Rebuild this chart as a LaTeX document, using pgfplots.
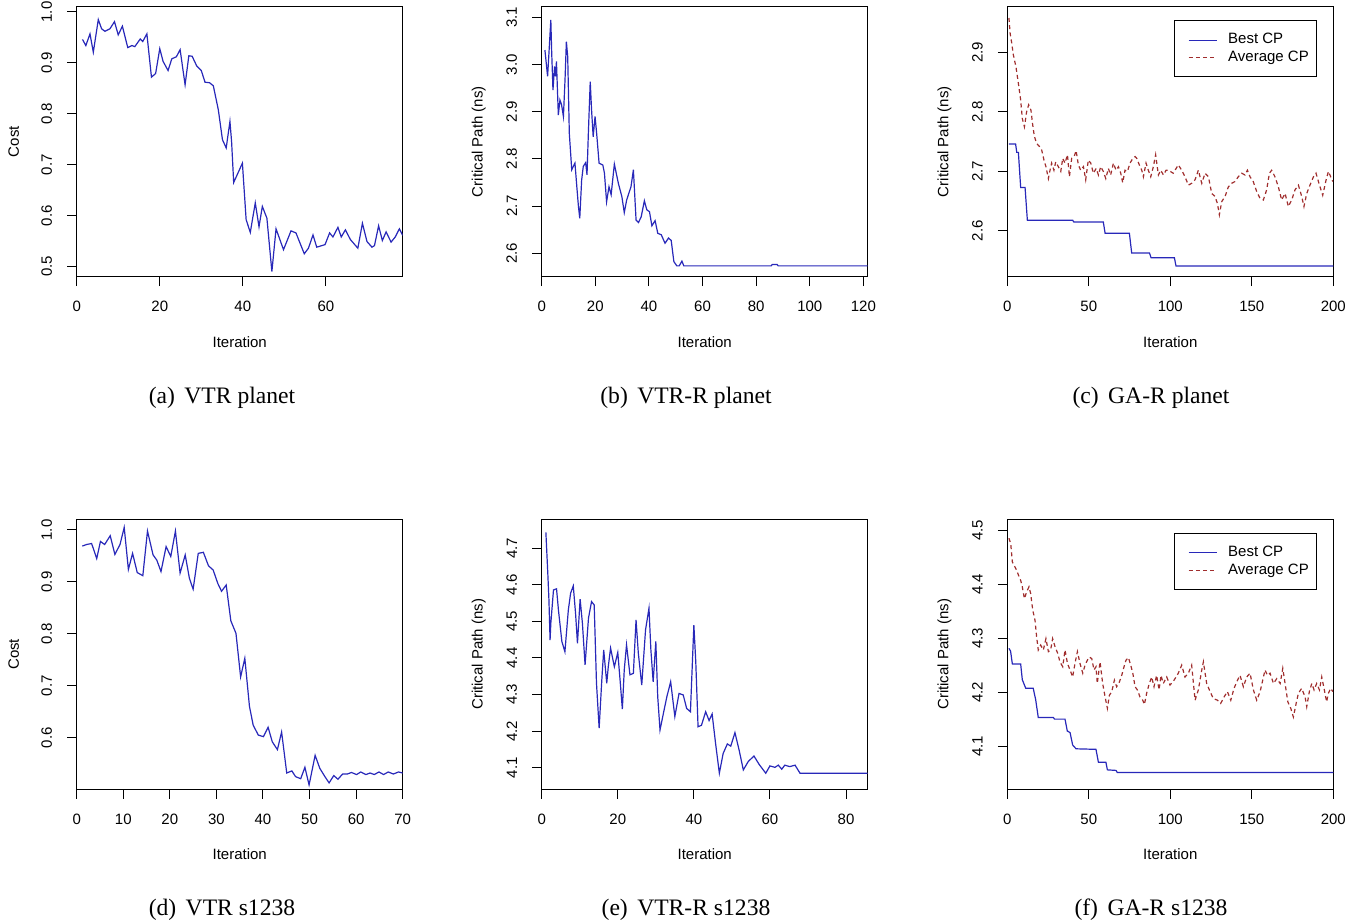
\documentclass[border=0pt]{standalone}
\usepackage{fontspec}
\setmainfont{Liberation Sans}
\newfontfamily\capfont{Liberation Serif}
\usepackage{pgfplots}
\pgfplotsset{compat=1.18}

\definecolor{rblue}{RGB}{40,40,185}
\definecolor{rbrown}{RGB}{160,45,45}
\newcommand{\axfont}{\fontsize{7.5}{9}\selectfont}
\newcommand{\capsize}{\capfont\fontsize{11.8}{14}\selectfont}

\pgfplotsset{
  rpanel/.style={
    scale only axis, width=163pt, height=135pt, anchor=south west,
    axis line style={line width=0.5pt, black},
    tick align=outside, major tick length=4.75pt,
    tick style={black, line width=0.5pt}, tick pos=left,
    /pgf/number format/assume math mode=true,
    every tick label/.append style={font=\axfont},
    label style={font=\axfont},
    xticklabel shift=4pt, yticklabel shift=4pt,
    yticklabel style={rotate=90, anchor=south,
      /pgf/number format/fixed, /pgf/number format/fixed zerofill,
      /pgf/number format/precision=1},
    xlabel style={at={(axis description cs:0.5,-0.241)}, anchor=center},
    ylabel style={at={(axis description cs:-0.193,0.5)}, anchor=center},
    xmin=0, xlabel={Iteration},
    every axis plot/.append style={line width=0.6pt},
  },
  rlegend/.style={
    legend style={at={(0.951,0.949)}, anchor=north east, draw=black,
      line width=0.5pt, fill=white, font=\axfont,
      inner xsep=2pt, inner ysep=4.25pt, row sep=-2pt},
    legend cell align=left,
    legend image code/.code={\path (0pt,0pt) (22.5pt,0pt);
      \draw[##1] (5pt,0pt) -- (19pt,0pt);},
  },
}

\begin{document}
\begin{tikzpicture}
\path[use as bounding box] (0pt,0pt) rectangle (680pt,-462pt);

% (a) VTR planet
\begin{axis}[rpanel, at={(38.35pt,-138.35pt)},
  xmax=78.5, ymin=0.480, ymax=1.0104,
  xtick={0,20,40,60}, ytick={0.5,0.6,0.7,0.8,0.9,1.0}, ylabel={Cost}]
\addplot[rblue] coordinates {
(1.4,0.946) (2.2,0.934) (3.2,0.957) (4,0.921) (5.2,0.985) (6,0.967) (6.8,0.962)
(8,0.967) (9.1,0.981) (10,0.955) (11,0.972) (12.3,0.930) (13.3,0.934) (14,0.932)
(15.3,0.947) (15.9,0.942) (16.9,0.957) (18,0.872) (19,0.879) (20,0.928) (20.8,0.903)
(22,0.885) (22.9,0.908) (24,0.912) (24.9,0.926) (26.1,0.857) (27,0.914) (27.8,0.913)
(28.9,0.894) (30,0.885) (30.9,0.862) (32,0.861) (32.9,0.855) (34.1,0.808) (35.1,0.749)
(36,0.733) (36.9,0.785) (37.3,0.745) (37.8,0.665) (39.9,0.703) (40.8,0.592) (41.8,0.567)
(43,0.625) (43.9,0.578) (44.7,0.618) (45.8,0.595) (47,0.490) (48,0.574) (49.8,0.533)
(51.6,0.570) (52.8,0.566) (54.8,0.525) (55.8,0.536) (56.9,0.562) (57.8,0.538)
(59.8,0.543) (60.9,0.566) (61.7,0.558) (62.9,0.577) (63.7,0.558) (64.7,0.572)
(65.9,0.553) (67.7,0.536) (68.8,0.585) (69.9,0.549) (71.1,0.538) (71.7,0.541)
(72.7,0.580) (73.6,0.551) (74.5,0.568) (75.7,0.548) (76.7,0.558) (77.7,0.574) (78.5,0.561)
};
\end{axis}

% (b) VTR-R planet
\begin{axis}[rpanel, at={(270.85pt,-138.35pt)},
  xmax=121.6, ymin=2.550, ymax=3.123,
  xtick={0,20,40,60,80,100,120}, ytick={2.6,2.7,2.8,2.9,3.0,3.1},
  ylabel={Critical Path (ns)}]
\addplot[rblue] coordinates {
(1.2,3.031) (2.2,2.975) (2.7,3.024) (3.4,3.095) (3.7,3.031) (4.2,2.946) (4.8,2.996)
(5.2,2.975) (5.5,3.007) (6.2,2.893) (6.8,2.925) (7.4,2.915) (8.1,2.890) (8.7,2.968)
(9.2,3.049) (9.7,3.017) (10.3,2.854) (11.2,2.777) (11.8,2.784) (12.4,2.791) (13.1,2.741)
(13.7,2.699) (14.2,2.674) (14.9,2.755) (15.5,2.784) (16.4,2.792) (16.9,2.766)
(17.4,2.854) (18.1,2.964) (18.6,2.904) (19.2,2.847) (19.9,2.890) (20.5,2.854)
(21.4,2.791) (22.8,2.787) (23.4,2.770) (24.2,2.709) (25.1,2.741) (25.9,2.724)
(27.1,2.789) (28.6,2.748) (29.9,2.720) (30.8,2.686) (31.7,2.713) (33.3,2.741)
(34.2,2.777) (35.2,2.670) (36.1,2.665) (37.1,2.677) (38.3,2.711) (39.2,2.692)
(40.2,2.688) (41.1,2.658) (42.3,2.669) (43.3,2.642) (44.6,2.639) (46,2.621)
(47.3,2.632) (48.3,2.627) (49.3,2.582) (50.4,2.573) (51.3,2.573) (52.3,2.583)
(53,2.573) (85.6,2.573) (86,2.576) (87.8,2.576) (88.2,2.573) (121.6,2.573)
};
\end{axis}

% (c) GA-R planet
\begin{axis}[rpanel, rlegend, at={(503.65pt,-138.35pt)},
  xmax=200, ymin=2.523, ymax=2.977,
  xtick={0,50,100,150,200}, ytick={2.6,2.7,2.8,2.9},
  ylabel={Critical Path (ns)}]
\addplot[rblue] coordinates {
(1,2.746) (5.1,2.746) (5.8,2.732) (6.8,2.732) (8.2,2.673) (10.9,2.673) (12.3,2.618)
(40.1,2.618) (40.8,2.615) (58.9,2.615) (60,2.596) (74.9,2.596) (76.3,2.563)
(87.2,2.563) (88.2,2.555) (102.5,2.555) (103.5,2.541) (200,2.541)
};
\addlegendentry{Best CP}
\addplot[rbrown, dash pattern=on 2pt off 1.6pt] coordinates {
(1,2.958) (1.7,2.933) (2.7,2.916) (3.7,2.896) (5.3,2.876) (6.8,2.848) (8.2,2.820)
(9.2,2.789) (10.5,2.775) (11.9,2.801) (13.1,2.812) (14.5,2.803) (15.6,2.778)
(16.6,2.759) (18,2.747) (19.7,2.742) (21.1,2.736) (22.5,2.719) (23.7,2.708)
(25.2,2.688) (26.2,2.702) (27.2,2.714) (28.6,2.702) (29.7,2.716) (31.3,2.708)
(32.8,2.700) (34,2.722) (35.4,2.714) (36.9,2.728) (38.1,2.691) (39.5,2.722)
(41,2.725) (42.2,2.735) (43.6,2.711) (45,2.702) (46.7,2.708) (48.1,2.686)
(49.7,2.719) (51.2,2.714) (52.8,2.697) (54.5,2.705) (55.9,2.694) (57.3,2.708)
(58.9,2.700) (60.4,2.688) (62,2.705) (63.4,2.694) (65.1,2.714) (66.7,2.702)
(68.2,2.708) (69.6,2.697) (70.8,2.681) (72.2,2.702) (73.7,2.700) (75.3,2.714)
(77,2.722) (78.4,2.725) (79.4,2.722) (81,2.711) (82.5,2.702) (83.5,2.691)
(85.1,2.714) (86.5,2.702) (88,2.691) (89.6,2.708) (91,2.728) (92.7,2.694)
(94.1,2.702) (95.8,2.694) (97.4,2.702) (98.8,2.702) (101.8,2.697) (104.9,2.711)
(107,2.702) (109,2.691) (111.1,2.677) (113.1,2.680) (115.2,2.686) (117.2,2.702)
(119.3,2.680) (121.3,2.697) (123.4,2.691) (125.4,2.663) (127.4,2.658) (128.9,2.646)
(130.1,2.627) (131.5,2.649) (133.6,2.658) (135.6,2.674) (137.6,2.680) (139.7,2.683)
(141.7,2.691) (143.8,2.697) (145.8,2.694) (147.3,2.702) (148.9,2.691) (150.9,2.683)
(153,2.666) (155,2.655) (157.1,2.652) (159.1,2.669) (160.8,2.697) (162.2,2.702)
(164.2,2.691) (166.3,2.674) (168.3,2.652) (170.4,2.663) (172.4,2.641) (174.5,2.652)
(176.5,2.669) (178.6,2.677) (180.6,2.658) (182,2.641) (183.7,2.663) (185.7,2.677)
(187.8,2.691) (189.4,2.697) (191.5,2.677) (193.5,2.660) (195.6,2.686) (197,2.700)
(198.4,2.691) (199.7,2.683)
};
\addlegendentry{Average CP}
\end{axis}

% (d) VTR s1238
\begin{axis}[rpanel, at={(38.35pt,-394.65pt)},
  xmax=70, ymin=0.5006, ymax=1.0206,
  xtick={0,10,20,30,40,50,60,70}, ytick={0.6,0.7,0.8,0.9,1.0}, ylabel={Cost}]
\addplot[rblue] coordinates {
(1.2,0.969) (2.1,0.972) (3.2,0.974) (4.3,0.945) (5.1,0.978) (6,0.972) (7.2,0.989)
(8.2,0.953) (9.3,0.972) (10.2,1.005) (11.1,0.924) (12,0.955) (13,0.918) (14.2,0.912)
(15.2,0.998) (16.4,0.952) (17.2,0.942) (18.1,0.920) (19.2,0.968) (20.2,0.949)
(21.2,0.998) (22.2,0.917) (23.3,0.952) (24.2,0.907) (25,0.886) (26.1,0.955)
(27.2,0.957) (28.3,0.931) (29.3,0.923) (30.3,0.897) (31.1,0.882) (32.1,0.894)
(33.1,0.825) (34.2,0.801) (35.2,0.717) (36.1,0.753) (37.1,0.660) (37.9,0.624)
(39,0.605) (40.1,0.602) (41.1,0.620) (42,0.592) (43.1,0.577) (44,0.611) (45.1,0.532)
(46.2,0.536) (47,0.525) (48.1,0.521) (49,0.543) (49.9,0.509) (51.2,0.566) (52.2,0.541)
(53.3,0.525) (54.2,0.513) (55.2,0.527) (56.1,0.520) (57.1,0.530) (58.1,0.530)
(59,0.533) (60.1,0.529) (61,0.534) (62.1,0.529) (63,0.532) (63.9,0.529) (64.9,0.534)
(65.9,0.529) (66.9,0.534) (68,0.530) (69.1,0.534) (70,0.532)
};
\end{axis}

% (e) VTR-R s1238
\begin{axis}[rpanel, at={(270.85pt,-394.65pt)},
  xmax=85.7, ymin=4.041, ymax=4.779,
  xtick={0,20,40,60,80}, ytick={4.1,4.2,4.3,4.4,4.5,4.6,4.7},
  ylabel={Critical Path (ns)}]
\addplot[rblue] coordinates {
(1.1,4.743) (1.6,4.632) (1.9,4.559) (2.2,4.449) (2.4,4.495) (3.1,4.586) (3.9,4.589)
(4.4,4.531) (5.3,4.445) (6.1,4.417) (7,4.531) (7.6,4.577) (8.3,4.597) (8.9,4.522)
(9.4,4.440) (10.1,4.561) (10.7,4.495) (11.4,4.381) (12.3,4.509) (13.1,4.554)
(13.8,4.545) (14.4,4.331) (15.1,4.208) (15.8,4.340) (16.3,4.422) (17.1,4.331)
(17.5,4.376) (18.1,4.427) (19.1,4.376) (20,4.415) (20.6,4.340) (21.2,4.260)
(21.7,4.367) (22.3,4.436) (23.2,4.354) (24.1,4.358) (24.8,4.504) (25.4,4.413)
(26.3,4.326) (27.3,4.477) (28.2,4.536) (28.7,4.422) (29.3,4.335) (30,4.445)
(30.5,4.294) (31.1,4.203) (32,4.249) (32.9,4.294) (33.9,4.335) (35,4.240)
(36.1,4.303) (37.2,4.299) (38.1,4.262) (39.1,4.253) (40,4.490) (40.5,4.390)
(41.1,4.212) (42,4.216) (43.1,4.253) (44,4.229) (44.8,4.247) (45.7,4.167)
(46.7,4.085) (47.7,4.139) (48.8,4.165) (49.7,4.159) (50.8,4.196) (51.9,4.148)
(53,4.094) (54.3,4.117) (55.8,4.132) (57.1,4.110) (58.9,4.085) (60,4.105)
(61.3,4.101) (62.2,4.107) (63.1,4.096) (63.9,4.107) (65.2,4.103) (66.6,4.107)
(67.9,4.085) (85.7,4.085)
};
\end{axis}

% (f) GA-R s1238
\begin{axis}[rpanel, rlegend, at={(503.65pt,-394.65pt)},
  xmax=200, ymin=4.020, ymax=4.520,
  xtick={0,50,100,150,200}, ytick={4.1,4.2,4.3,4.4,4.5},
  ylabel={Critical Path (ns)}]
\addplot[rblue] coordinates {
(1,4.281) (2,4.276) (3.1,4.252) (8.2,4.252) (9.2,4.223) (11.3,4.207) (15.9,4.207)
(17.4,4.186) (19,4.153) (28.2,4.153) (29,4.150) (35.4,4.150) (36.8,4.128)
(38.5,4.125) (40.1,4.102) (42.2,4.095) (54.4,4.094) (55.9,4.070) (60.5,4.070)
(61.4,4.056) (66.7,4.055) (67.5,4.051) (200,4.051)
};
\addlegendentry{Best CP}
\addplot[rbrown, dash pattern=on 2pt off 1.6pt] coordinates {
(1,4.485) (2.1,4.475) (3.1,4.441) (4.1,4.435) (5.7,4.426) (6.8,4.417) (8.2,4.407)
(9.2,4.395) (10.5,4.373) (11.9,4.386) (13.3,4.395) (14.3,4.383) (15.6,4.352)
(17,4.333) (18,4.302) (19,4.278) (20.5,4.287) (22.1,4.278) (23.7,4.299) (25.2,4.275)
(26.6,4.278) (27.8,4.299) (29.3,4.284) (30.9,4.272) (32.3,4.256) (34,4.247)
(35.4,4.278) (36.9,4.253) (38.5,4.241) (40.1,4.228) (41.5,4.253) (43,4.275)
(44.6,4.253) (46.3,4.235) (47.7,4.250) (49.1,4.259) (50.3,4.265) (51.8,4.262)
(53.2,4.241) (54.4,4.247) (55.2,4.216) (56.9,4.256) (58.5,4.216) (60,4.191)
(61.4,4.170) (62.6,4.194) (64.1,4.201) (65.7,4.222) (67.1,4.210) (68.8,4.219)
(70.2,4.231) (71.6,4.247) (72.8,4.259) (74.3,4.264) (75.7,4.250) (77,4.235)
(78.4,4.210) (79.8,4.204) (81.4,4.191) (83.1,4.185) (84.1,4.177) (85.5,4.198)
(87.1,4.216) (88.6,4.228) (90,4.210) (91.6,4.231) (93.1,4.204) (94.3,4.231)
(95.7,4.216) (97.8,4.228) (99.8,4.213) (102.3,4.222) (104.9,4.235) (107,4.250)
(109,4.228) (111.1,4.235) (113.1,4.250) (115.2,4.185) (117.2,4.204) (119.3,4.241)
(120.3,4.256) (122.3,4.216) (124.4,4.201) (126.4,4.188) (128.9,4.185) (130.9,4.179)
(133,4.191) (135,4.201) (137.1,4.185) (139.1,4.207) (141.2,4.222) (142.8,4.231)
(144.8,4.210) (146.9,4.228) (148.9,4.235) (151,4.204) (153,4.185) (155.1,4.201)
(156.7,4.222) (158.1,4.241) (159.6,4.231) (161.2,4.235) (163.3,4.216) (165.3,4.225)
(167.4,4.216) (169,4.244) (170.4,4.216) (172.1,4.182) (173.9,4.170) (175.5,4.154)
(177.2,4.179) (178.6,4.198) (180.6,4.207) (182.7,4.191) (183.7,4.173) (185.3,4.201)
(186.8,4.216) (188.2,4.204) (189.8,4.216) (191.5,4.204) (192.9,4.228) (194.3,4.207)
(195.9,4.182) (197,4.198) (198.4,4.207) (199.7,4.201)
};
\addlegendentry{Average CP}
\end{axis}

% sub-captions
\node[font=\capsize] at (111pt,-199pt) {(a)\hspace{0.4em}VTR planet};
\node[font=\capsize] at (343pt,-199pt) {(b)\hspace{0.4em}VTR-R planet};
\node[font=\capsize] at (575.5pt,-199pt) {(c)\hspace{0.4em}GA-R planet};
\node[font=\capsize] at (111pt,-455pt) {(d)\hspace{0.4em}VTR s1238};
\node[font=\capsize] at (343pt,-455pt) {(e)\hspace{0.4em}VTR-R s1238};
\node[font=\capsize] at (575.5pt,-455pt) {(f)\hspace{0.4em}GA-R s1238};
\end{tikzpicture}
\end{document}
